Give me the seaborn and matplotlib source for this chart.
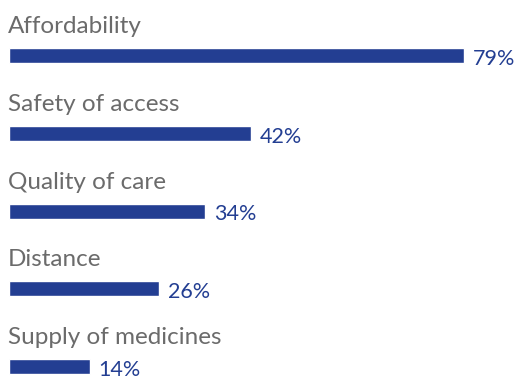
import matplotlib
matplotlib.use("Agg")
import matplotlib.pyplot as plt
import seaborn as sns
import pandas as pd

categories = ["Affordability", "Safety of access", "Quality of care", "Distance", "Supply of medicines"]
values = [79, 42, 34, 26, 14]
value_labels = ["79%", "42%", "34%", "26%", "14%"]

bar_color = "#233e92"
label_color = "#6b6b6b"

sns.set_theme(style="white")
plt.rcParams["font.family"] = ["Lato", "DejaVu Sans"]

df = pd.DataFrame({"category": categories, "value": values})

fig = plt.figure(figsize=(5.15, 3.76), dpi=100)
ax = fig.add_axes([0, 0, 1, 1])
sns.barplot(data=df, x="value", y="category", orient="h", color=bar_color,
            width=0.193, saturation=1, ax=ax)

ax.set_xlim(-1.56, 87.9)
ax.set_ylim(4.122, -0.714)
ax.axis("off")

for i, (cat, v, lab) in enumerate(zip(categories, values, value_labels)):
    ax.text(-0.15, i - 0.289, cat, ha="left", va="baseline", fontsize=17.5,
            color=label_color, fontweight="normal")
    ax.text(v + 1.6, i + 0.122, lab, ha="left", va="baseline", fontsize=15.5,
            color=bar_color, fontweight="normal")

fig.savefig("out.png", dpi=100)
